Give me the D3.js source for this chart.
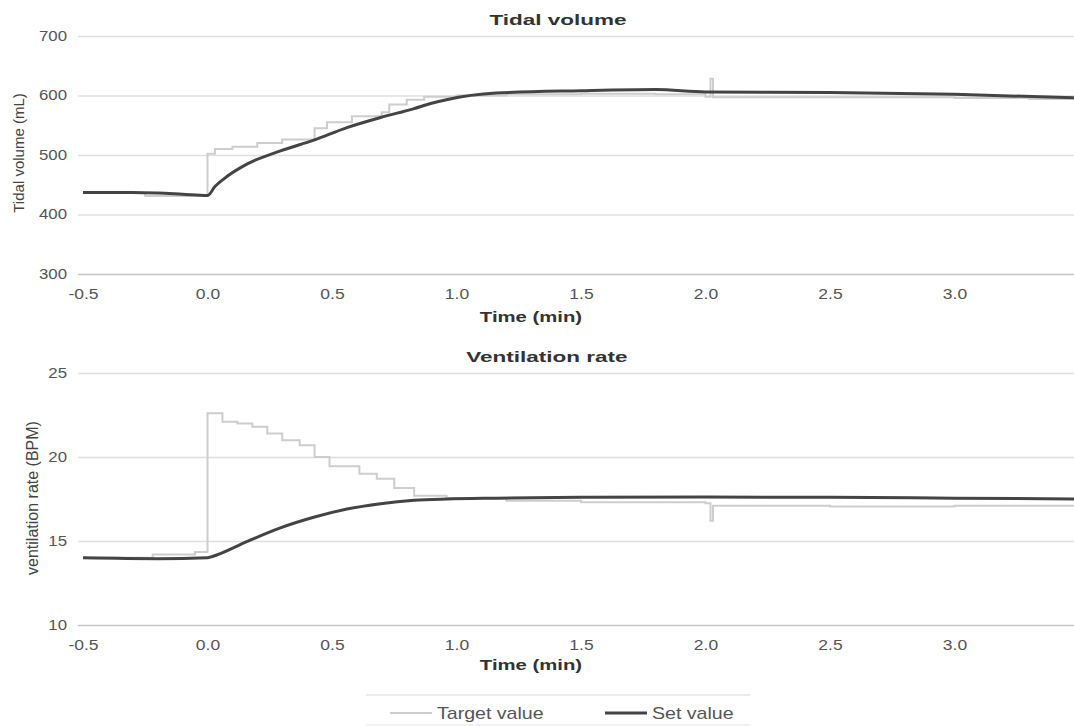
<!DOCTYPE html>
<html>
<head>
<meta charset="utf-8">
<script src="https://cdn.jsdelivr.net/npm/d3@7"></script>
<style>
  body { margin: 0; background: #fff; }
  svg { display: block; font-family: 'Liberation Sans', Arial, sans-serif; }
</style>
</head>
<body>
<svg width="1074" height="726"></svg>
<script>
// time ticks (min)
const timeTicks = [-0.5, 0, 0.5, 1.0, 1.5, 2.0, 2.5, 3.0];
const tvTicks = [300, 400, 500, 600, 700];
const vrTicks = [10, 15, 20, 25];

// Tidal volume (mL): [time, value]
const tvTarget = [
    [-0.5, 436], [-0.25, 431], [0.0, 502], [0.03, 510], [0.1, 514], [0.2, 520],
    [0.3, 526], [0.43, 545], [0.48, 555], [0.58, 565], [0.7, 572], [0.73, 585],
    [0.8, 593], [0.87, 598], [1.0, 600], [1.2, 602], [1.5, 603], [1.8, 602],
    [2.0, 598], [2.02, 628], [2.03, 597], [2.5, 597], [3.0, 596], [3.3, 594], [3.5, 593]
];
const tvSet = [
    [-0.5, 437], [-0.3, 437], [-0.2, 436], [-0.1, 434], [0.0, 432], [0.03, 447],
    [0.066, 460], [0.16, 485], [0.293, 507], [0.427, 525], [0.56, 546], [0.695, 563],
    [0.83, 578], [0.9, 587], [0.96, 593], [1.16, 604], [1.5, 608], [1.8, 610],
    [2.0, 606], [2.5, 605], [3.0, 602], [3.5, 596]
];

// Ventilation rate (BPM): [time, value]
const vrTarget = [
    [-0.5, 14.0], [-0.22, 14.2], [-0.05, 14.35], [0.0, 22.6], [0.06, 22.1], [0.12, 22.0],
    [0.18, 21.8], [0.24, 21.4], [0.3, 21.0], [0.37, 20.7], [0.43, 20.0], [0.49, 19.45],
    [0.61, 19.0], [0.68, 18.7], [0.75, 18.15], [0.83, 17.7], [0.96, 17.55], [1.2, 17.4],
    [1.5, 17.3], [2.0, 17.25], [2.02, 16.2], [2.03, 17.1], [2.5, 17.05], [3.0, 17.1], [3.5, 17.15]
];
const vrSet = [
    [-0.5, 14.0], [-0.2, 13.95], [0.0, 14.0], [0.02, 14.08], [0.16, 14.98], [0.29, 15.77],
    [0.43, 16.43], [0.56, 16.9], [0.695, 17.22], [0.83, 17.42], [0.96, 17.5], [1.16, 17.55],
    [1.5, 17.6], [2.0, 17.62], [2.5, 17.6], [3.0, 17.55], [3.5, 17.5]
];

const svg = d3.select('svg');
const width = 1074;
const gridLeft = 78;
const textColor = '#555';

const xScale = d3.scaleLinear()
    .domain([-0.5, 3.5])
    .range([83, 1079]);

// the scanned figure has wide lettering, so stretch text horizontally
function stretch(sel, k) {
    sel.each(function () {
        const w = this.getComputedTextLength();
        d3.select(this)
            .attr('textLength', w * k)
            .attr('lengthAdjust', 'spacingAndGlyphs');
    });
}

function drawPanel(opts) {
    const yScale = d3.scaleLinear()
        .domain(opts.domain)
        .range([opts.bottom, opts.top]);

    const g = svg.append('g');

    const yAxis = d3.axisLeft(yScale)
        .tickValues(opts.ticks)
        .tickSize(-(width - gridLeft))
        .tickPadding(11);

    const yAxisG = g.append('g')
        .attr('transform', `translate(${gridLeft},0)`)
        .call(yAxis);
    yAxisG.select('.domain').remove();
    yAxisG.selectAll('line')
        .attr('stroke', (d, i) => i === 0 ? '#c4c4c4' : '#e0e0e0')
        .attr('stroke-width', (d, i) => i === 0 ? 1.5 : 1.3);
    yAxisG.selectAll('text')
        .attr('fill', textColor)
        .attr('font-size', 14)
        .call(stretch, 1.2);

    const xAxis = d3.axisBottom(xScale)
        .tickValues(timeTicks)
        .tickSize(0)
        .tickPadding(15)
        .tickFormat(d => d.toFixed(1));

    const xAxisG = g.append('g')
        .attr('transform', `translate(0,${opts.bottom})`)
        .call(xAxis);
    xAxisG.select('.domain').remove();
    xAxisG.selectAll('text')
        .attr('fill', textColor)
        .attr('font-size', 14)
        .call(stretch, 1.25);

    g.append('text')
        .attr('x', opts.titleX)
        .attr('y', opts.top - 11)
        .attr('text-anchor', 'middle')
        .attr('font-size', 15)
        .attr('font-weight', 'bold')
        .attr('fill', '#333')
        .text(opts.title)
        .call(stretch, 1.5);

    g.append('text')
        .attr('x', 531)
        .attr('y', opts.xLabelY)
        .attr('text-anchor', 'middle')
        .attr('font-size', 14)
        .attr('font-weight', 'bold')
        .attr('fill', '#333')
        .text('Time (min)')
        .call(stretch, 1.45);

    g.append('text')
        .attr('transform', `translate(${opts.yLabelX},${opts.yLabelY}) rotate(-90)`)
        .attr('text-anchor', 'middle')
        .attr('font-size', opts.yLabelSize)
        .attr('fill', '#444')
        .text(opts.yLabel);

    const stepLine = d3.line()
        .x(d => xScale(d[0]))
        .y(d => yScale(d[1]))
        .curve(d3.curveStepAfter);

    const smoothLine = d3.line()
        .x(d => xScale(d[0]))
        .y(d => yScale(d[1]))
        .curve(d3.curveMonotoneX);

    g.append('path')
        .attr('d', stepLine(opts.target))
        .attr('fill', 'none')
        .attr('stroke', '#cdcdcd')
        .attr('stroke-width', 2);

    g.append('path')
        .attr('d', smoothLine(opts.set))
        .attr('fill', 'none')
        .attr('stroke', '#444')
        .attr('stroke-width', 3);
}

drawPanel({
    title: 'Tidal volume',
    titleX: 558,
    yLabel: 'Tidal volume (mL)',
    yLabelSize: 15,
    domain: [300, 700],
    ticks: tvTicks,
    top: 36,
    bottom: 274,
    xLabelY: 322,
    yLabelX: 24,
    yLabelY: 153,
    target: tvTarget,
    set: tvSet
});

drawPanel({
    title: 'Ventilation rate',
    titleX: 547,
    yLabel: 'ventilation rate (BPM)',
    yLabelSize: 16,
    domain: [10, 25],
    ticks: vrTicks,
    top: 373,
    bottom: 625,
    xLabelY: 670,
    yLabelX: 38,
    yLabelY: 498,
    target: vrTarget,
    set: vrSet
});

// legend
const legend = svg.append('g');
legend.append('line')
    .attr('x1', 366).attr('x2', 750)
    .attr('y1', 695).attr('y2', 695)
    .attr('stroke', '#d8d8d8');
legend.append('line')
    .attr('x1', 366).attr('x2', 750)
    .attr('y1', 725).attr('y2', 725)
    .attr('stroke', '#e4e4e4');

const legendItems = [
    { label: 'Target value', color: '#cdcdcd', width: 2, x: 390 },
    { label: 'Set value', color: '#444', width: 3, x: 605 }
];
legendItems.forEach(item => {
    legend.append('line')
        .attr('x1', item.x).attr('x2', item.x + 42)
        .attr('y1', 713).attr('y2', 713)
        .attr('stroke', item.color)
        .attr('stroke-width', item.width);
    legend.append('text')
        .attr('x', item.x + 47)
        .attr('y', 719)
        .attr('font-size', 17)
        .attr('fill', textColor)
        .text(item.label)
        .call(stretch, 1.15);
});
</script>
</body>
</html>
